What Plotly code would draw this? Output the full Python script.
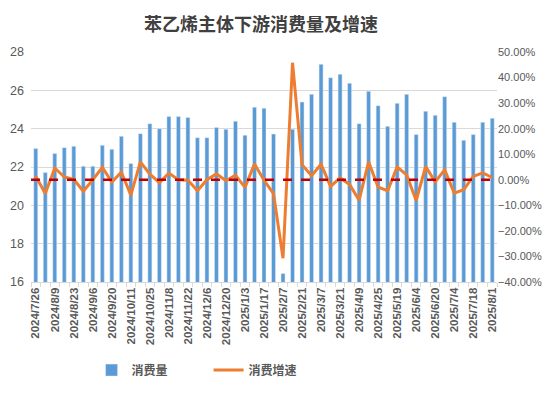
import plotly.graph_objects as go

dates = ["2024/7/26","2024/8/2","2024/8/9","2024/8/16","2024/8/23","2024/8/30","2024/9/6","2024/9/13",
         "2024/9/20","2024/9/27","2024/10/11","2024/10/18","2024/10/25","2024/11/1","2024/11/8","2024/11/15",
         "2024/11/22","2024/11/29","2024/12/6","2024/12/13","2024/12/20","2024/12/27","2025/1/3","2025/1/10",
         "2025/1/17","2025/1/24","2025/2/7","2025/2/14","2025/2/21","2025/2/28","2025/3/7","2025/3/14",
         "2025/3/21","2025/3/28","2025/4/9","2025/4/18","2025/4/25","2025/5/9","2025/5/19","2025/5/23",
         "2025/6/4","2025/6/13","2025/6/20","2025/6/27","2025/7/4","2025/7/11","2025/7/18","2025/7/25","2025/8/1"]

consumption = [22.96, 21.71, 22.70, 23.01, 23.08, 22.04, 22.04, 23.13, 22.92, 23.60, 22.18, 23.74, 24.26,
               24.00, 24.63, 24.63, 24.58, 23.53, 23.53, 24.06, 23.97, 24.39, 23.66, 25.12, 25.07, 23.72,
               16.44, 23.97, 25.39, 25.79, 27.36, 26.66, 26.84, 26.37, 24.26, 25.95, 25.20, 24.12, 25.32,
               25.79, 23.69, 24.91, 24.70, 25.67, 24.33, 23.39, 23.69, 24.33, 24.54]

growth = [0.014, -0.054, 0.046, 0.011, 0.002, -0.045, 0.000, 0.049, -0.009, 0.030, -0.060, 0.070, 0.022,
          -0.011, 0.026, 0.000, -0.002, -0.043, 0.000, 0.023, -0.004, 0.018, -0.030, 0.062, -0.002, -0.054,
          -0.307, 0.458, 0.059, 0.016, 0.061, -0.026, 0.007, -0.018, -0.080, 0.070, -0.029, -0.043, 0.050,
          0.019, -0.081, 0.052, -0.008, 0.039, -0.052, -0.039, 0.013, 0.027, 0.009]

zero_ref = [0.0]

tick_text = [d if i % 2 == 0 else "" for i, d in enumerate(dates)]

fig = go.Figure()
fig.add_trace(go.Bar(x=dates, y=consumption, name="消费量", marker_color="#5B9BD5", yaxis="y"))
fig.add_trace(go.Scatter(x=dates, y=growth, name="消费增速", mode="lines",
                         line=dict(color="#ED7D31", width=3), yaxis="y2"))

fig.add_shape(type="line", xref="paper", x0=0, x1=1, yref="y2", y0=zero_ref[0], y1=zero_ref[0],
              line=dict(color="#C00000", width=2.5, dash="dash"), layer="above")

W, H = 547, 385
ml, mr, mt, mb = 23, 58, 44, 111

fig.update_layout(
    width=W, height=H,
    margin=dict(l=ml, r=mr, t=mt, b=mb, autoexpand=False),
    paper_bgcolor="white", plot_bgcolor="white",
    title=dict(text="苯乙烯主体下游消费量及增速", x=0.4625, xref="container", xanchor="center",
               y=0.956, yanchor="middle",
               font=dict(family="Noto Sans CJK SC", size=18, color="#404040", weight="bold")),
    bargap=0.58,
    xaxis=dict(type="category", tickvals=dates, ticktext=tick_text, tickangle=-90, automargin=False,
               tickfont=dict(family="Liberation Sans", size=11.5, color="#595959", weight="bold"),
               ticks="outside", tickson="boundaries", ticklen=4, tickcolor="#D9D9D9",
               showline=True, linecolor="#D9D9D9", showgrid=False),
    yaxis=dict(range=[16, 28], dtick=2, showgrid=True, gridcolor="#D9D9D9", ticklabelstandoff=6,
               automargin=False,
               tickfont=dict(family="Liberation Sans", size=12.5, color="#595959"), zeroline=False),
    yaxis2=dict(range=[-0.4, 0.5], dtick=0.1, tickformat=".2%", overlaying="y", side="right",
                showgrid=False, zeroline=False, automargin=False,
                tickfont=dict(family="Liberation Sans", size=11, color="#595959")),
    legend=dict(orientation="h", x=0.13, xanchor="left", y=-0.32, yanchor="top",
                font=dict(family="Noto Sans CJK SC", size=12, color="#595959", weight="bold"),
                entrywidth=72, entrywidthmode="pixels"),
    showlegend=True,
)

fig.write_html("out.html")
